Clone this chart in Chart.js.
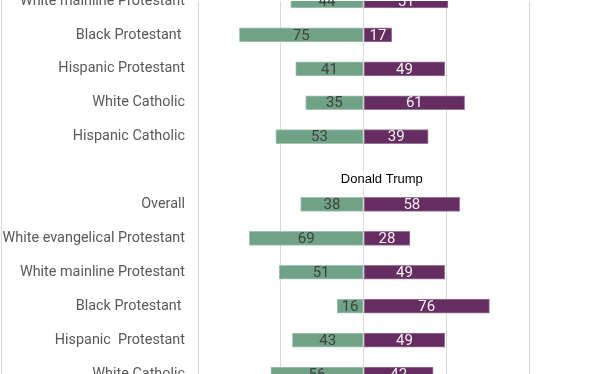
<!DOCTYPE html>
<html>
<head>
<meta charset="utf-8">
<script src="https://cdn.jsdelivr.net/npm/chart.js@4.4.1/dist/chart.umd.min.js"></script>
<style>
  html, body { margin: 0; padding: 0; background: #fff; }
  #wrap { width: 612px; height: 374px; position: relative; }
</style>
</head>
<body>
<div id="wrap"><canvas id="c" width="612" height="374"></canvas></div>
<script>
// Categories (top section is cut by the picture edge; blank row separates sections)
const categories = [
  "White mainline Protestant",
  "Black Protestant ",
  "Hispanic Protestant",
  "White Catholic",
  "Hispanic Catholic",
  "",
  "Overall",
  "White evangelical Protestant",
  "White mainline Protestant",
  "Black Protestant ",
  "Hispanic  Protestant",
  "White Catholic"
];
// Left (green) series, shown to the left of zero
const greenValues  = [44, 75, 41, 35, 53, null, 38, 69, 51, 16, 43, 56];
// Right (purple) series
const purpleValues = [51, 17, 49, 61, 39, null, 58, 28, 49, 76, 49, 42];
// Section heading drawn in the blank row
const sectionNote = { text: "Donald Trump", row: 5, value: 11 };
const xTicks = [-100, -50, 0, 50, 100, 150];

const GREEN = '#6fa287';
const PURPLE = '#652d61';

const valueLabels = {
  id: 'valueLabels',
  afterDatasetsDraw(chart) {
    const ctx = chart.ctx;
    ctx.save();
    ctx.font = '15px Roboto';
    ctx.textAlign = 'center';
    ctx.textBaseline = 'middle';
    chart.data.datasets.forEach((ds, di) => {
      const meta = chart.getDatasetMeta(di);
      meta.data.forEach((bar, i) => {
        const raw = di === 0 ? greenValues[i] : purpleValues[i];
        if (raw == null) return;
        const p = bar.getProps(['x', 'y', 'base'], true);
        ctx.fillStyle = di === 0 ? '#404040' : '#f2f2f2';
        ctx.fillText(String(raw), (p.x + p.base) / 2, p.y + 1);
      });
    });
    // section heading
    const xs = chart.scales.x, ys = chart.scales.y;
    ctx.font = '13px "Liberation Sans", sans-serif';
    const tx = xs.getPixelForValue(sectionNote.value);
    const ty = ys.getPixelForValue(sectionNote.row) + 9;
    const w = ctx.measureText(sectionNote.text).width;
    ctx.fillStyle = '#ffffff';
    ctx.fillRect(tx - w / 2 - 1, ty - 7, w + 2, 14);
    ctx.fillStyle = '#000000';
    ctx.fillText(sectionNote.text, tx, ty);
    ctx.restore();
  }
};

const frame = {
  id: 'frame',
  beforeDraw(chart) {
    const ctx = chart.ctx;
    ctx.save();
    ctx.fillStyle = '#ffffff';
    ctx.fillRect(0, 0, chart.width, chart.height);
    ctx.strokeStyle = '#d9d9d9';
    ctx.lineWidth = 1;
    ctx.beginPath();
    ctx.moveTo(1.5, 0);
    ctx.lineTo(1.5, chart.height);
    ctx.stroke();
    ctx.restore();
  }
};

new Chart(document.getElementById('c'), {
  type: 'bar',
  data: {
    labels: categories,
    datasets: [
      {
        label: 'Green',
        data: greenValues.map(v => v == null ? null : -v),
        backgroundColor: GREEN,
        borderColor: '#a6c4b1',
        borderWidth: 1,
        borderSkipped: false,
        barThickness: 14
      },
      {
        label: 'Purple',
        data: purpleValues,
        backgroundColor: PURPLE,
        borderColor: '#9a7897',
        borderWidth: 1,
        borderSkipped: false,
        barThickness: 14
      }
    ]
  },
  options: {
    indexAxis: 'y',
    responsive: false,
    animation: false,
    layout: { padding: { top: 1, bottom: -1, left: 0, right: 0 } },
    plugins: {
      legend: { display: false },
      tooltip: { enabled: false },
      title: { display: false }
    },
    scales: {
      x: {
        stacked: true,
        min: -100,
        max: 150,
        afterBuildTicks(scale) { scale.ticks = xTicks.map(v => ({ value: v })); },
        ticks: { display: false },
        grid: { color: '#d9d9d9', drawTicks: false, lineWidth: 1 },
        border: { display: false }
      },
      y: {
        stacked: true,
        offset: false,
        grid: { display: false, drawTicks: false },
        border: { display: true, color: '#d9d9d9' },
        ticks: {
          autoSkip: false,
          padding: 13,
          color: '#595959',
          font: { family: 'Roboto', size: 14.4 }
        },
        afterFit(scale) {
          scale.width = 198;
          scale.paddingTop = 0;
          scale.paddingBottom = 0;
        }
      }
    }
  },
  plugins: [frame, valueLabels]
});
</script>
</body>
</html>
